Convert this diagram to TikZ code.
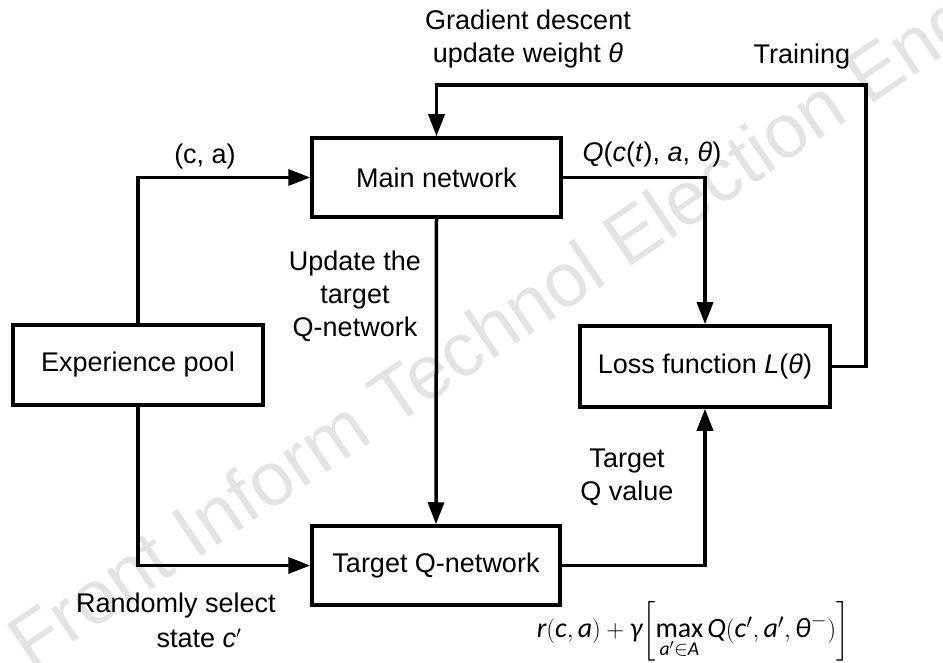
\documentclass[tikz,border=0pt]{standalone}
\usepackage{amsmath}
\usepackage{fontspec}
\setmainfont{Liberation Sans}
\newfontfamily\formfont{Carlito}
\usetikzlibrary{arrows.meta,positioning}
\tikzset{
  box/.style={draw, line width=3.5pt, fill=white, inner sep=0pt, align=center},
  arr/.style={line width=3.5pt, -{Triangle[length=22pt,width=16pt]}},
  lbl/.style={align=center, inner sep=0pt},
  wmark/.style={rotate=34, text=black!11, inner sep=0pt, font=\fontsize{76}{80}\selectfont},
}
\begin{document}
\begin{tikzpicture}[x=1pt,y=-1pt, every node/.style={font=\fontsize{27}{33}\selectfont}]
\useasboundingbox (0,0) rectangle (943,663);
% watermark
\node[wmark] (wm) at (495,335) {Front Inform Technol Election Eng};
% boxes
\node[box, minimum width=249pt, minimum height=79pt] (main) at (436.5,177.5) {Main network};
\node[box, minimum width=250pt, minimum height=80pt] (exp) at (138,365) {Experience pool};
\node[box, minimum width=250pt, minimum height=81pt] (loss) at (705,366.5) {Loss function \textit{L}(\textit{θ})};
\node[box, minimum width=248pt, minimum height=79pt] (tq) at (436,565.5) {Target Q-network};
\coordinate (fb) at (866,85);
% connectors
\draw[arr] (exp.north) |- (main.west);
\draw[arr] (exp.south) |- (tq.west);
\draw[arr] (main.east) -| (loss.north);
\draw[arr] (tq.east) -| (loss.south);
\draw[arr] (main.south) -- (tq.north);
\draw[arr] (loss.east) -| (fb) -| (main.north);
% labels
\node[lbl] (l1) at (528,39) {Gradient descent\\update weight \textit{θ}};
\node[lbl] (l2) at (802,57) {Training};
\node[lbl] (l3) at (205,157) {(c, a)};
\node[lbl] (l4) at (652,155) {\textit{Q}(\textit{c}(\textit{t}), \textit{a}, \textit{θ})};
\node[lbl] (l5) at (355,296) {Update the\\target\\Q-network};
\node[lbl] (l6) at (627,477) {Target\\Q value};
\node[lbl] (l7) at (176,606) {Randomly select};
\node[lbl] (l8) at (199,638) {state \textit{c}$'$};
\node[lbl, font=\fontsize{28}{30}\selectfont\formfont] (l9) at (693,631) {$\textit{r}(\textit{c}, \textit{a}) + \textit{γ}\!\left[\mathop{\text{max}}\limits_{\textit{a}'\in \textit{A}} \textit{Q}(\textit{c}',\textit{a}',\textit{θ}^{-})\right]$};
\end{tikzpicture}
\end{document}
